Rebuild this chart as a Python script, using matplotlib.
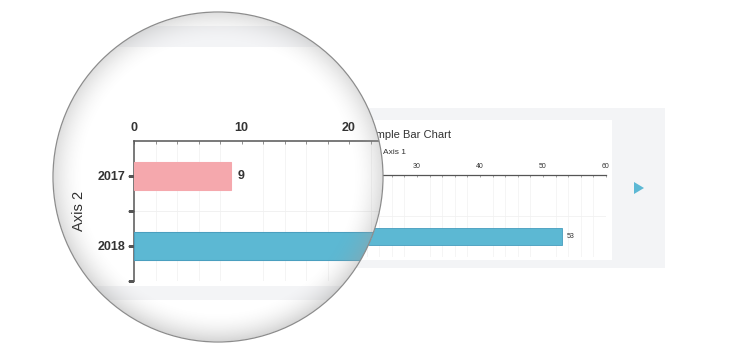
import matplotlib
matplotlib.use('Agg')
import matplotlib.pyplot as plt
import numpy as np
from matplotlib.patches import Rectangle, Circle, Polygon
from matplotlib.ticker import MultipleLocator, FixedLocator

plt.rcParams['font.family'] = ['Liberation Sans', 'DejaVu Sans']

# ---- data ----
title = 'Sample Bar Chart'
x_label = 'Axis 1'
y_label = 'Axis 2'
categories = ['2017', '2018']
values = [9, 53]
bar_colors = ['#f5a8ad', '#5cb8d3']
edge_colors = ['#f5a8ad', '#4a9fbf']
x_max = 60

W, H = 730, 350
fig = plt.figure(figsize=(7.3, 3.5), dpi=100)


def box(x0, y0, x1, y1):
    return [x0 / W, 1 - y1 / H, (x1 - x0) / W, (y1 - y0) / H]


# ---- page background ----
bg = fig.add_axes([0, 0, 1, 1], zorder=0)
bg.set_xlim(0, W); bg.set_ylim(H, 0); bg.axis('off')
bg.add_patch(Rectangle((150, 108), 665 - 150, 268 - 108, color='#f3f4f6', lw=0))
bg.add_patch(Rectangle((160, 120), 612 - 160, 260 - 120, color='white', lw=0))
bg.add_patch(Polygon([(634, 182), (644, 188), (634, 194)], closed=True,
                     color='#5cb8d4', lw=0))
bg.text(362, 134.5, title, fontsize=8, color='#333333', ha='left', va='center')


def draw_chart(ax, xlim, fs, weight, lw_spine, tick_len, pad_x, label_fs, val_off_pt):
    ypos = np.arange(len(categories))
    ax.set_facecolor('none')
    ax.barh(ypos, values, height=0.41, color=bar_colors, edgecolor=edge_colors,
            linewidth=lw_spine * 0.7, zorder=3)
    ax.set_ylim(len(categories) - 0.5, -0.5)
    ax.set_xlim(0, xlim)
    ax.xaxis.tick_top()
    ax.xaxis.set_major_locator(MultipleLocator(10))
    ax.xaxis.set_minor_locator(MultipleLocator(2))
    ax.yaxis.set_major_locator(FixedLocator(ypos))
    ax.yaxis.set_minor_locator(FixedLocator(ypos + 0.5))
    ax.set_yticklabels(categories)
    for s in ['right', 'bottom']:
        ax.spines[s].set_visible(False)
    for s in ['top', 'left']:
        ax.spines[s].set_color('#555555')
        ax.spines[s].set_linewidth(lw_spine)
    ax.tick_params(axis='x', which='both', direction='in', length=tick_len,
                   width=lw_spine * 0.6, color='#8a8a8a', pad=pad_x,
                   labelsize=fs, labelcolor='#333333')
    ax.tick_params(axis='y', which='both', direction='out', length=tick_len * 2.0,
                   width=lw_spine * 0.9, color='#555555', pad=tick_len,
                   labelsize=fs, labelcolor='#333333')
    for t in ax.get_xticklabels() + ax.get_yticklabels():
        t.set_fontweight(weight)
    ax.grid(axis='x', which='minor', color='#f3f3f3', lw=lw_spine * 0.6, zorder=0)
    ax.grid(axis='y', which='minor', color='#f0f0f0', lw=lw_spine * 0.6, zorder=0)
    ax.set_axisbelow(True)
    for y, v in zip(ypos, values):
        ax.annotate(str(v), (v, y), xytext=(val_off_pt, 0), textcoords='offset points',
                    ha='left', va='center', fontsize=fs, fontweight=weight,
                    color='#333333')
    ax.set_ylabel(y_label, fontsize=label_fs, color='#2a2a2a')


# ---- underlying chart ----
ax = fig.add_axes(box(228, 175, 606, 257), zorder=1)
draw_chart(ax, x_max, 5, 'normal', 0.9, 1.5, 3.5, 6, 3.5)
ax.set_xlabel(x_label, fontsize=6, color='#333333')
ax.xaxis.set_label_position('top')
ax.xaxis.set_label_coords((383 - 228) / 378, (175 - 153) / 82 + 1)
ax.xaxis.label.set_ha('left'); ax.xaxis.label.set_va('center')

# ---- magnifier ----
CX, CY, R = 218, 177, 165
mb = fig.add_axes([0, 0, 1, 1], zorder=2)
mb.set_xlim(0, W); mb.set_ylim(H, 0); mb.axis('off'); mb.set_facecolor('none')
clip = Circle((CX, CY), R, transform=mb.transData)
disk = Circle((CX, CY), R, color='white', lw=0)
mb.add_patch(disk)
for rect in [Rectangle((0, 26), W, 300 - 26, color='#f3f4f6', lw=0),
             Rectangle((0, 47), W, 286 - 47, color='white', lw=0)]:
    mb.add_patch(rect)
    rect.set_clip_path(clip)

mag_scale = 10.75
mx0, my0, my1 = 134, 141, 281
mag_xmax = 24
mag = fig.add_axes(box(mx0, my0, mx0 + mag_xmax * mag_scale, my1), zorder=3)
draw_chart(mag, mag_xmax, 9, 'bold', 1.1, 2, 5.3, 10.5, 5)
mag.yaxis.set_label_coords(-(mx0 - 79) / (mag_xmax * mag_scale), 0.5)
mag.yaxis.label.set_va('center')

# ---- glass shading ----
ov = fig.add_axes([0, 0, 1, 1], zorder=4)
ov.set_xlim(0, W); ov.set_ylim(H, 0); ov.axis('off'); ov.set_facecolor('none')
n = 500
yy, xx = np.mgrid[-1:1:n * 1j, -1:1:n * 1j]
rr = np.sqrt(xx ** 2 + yy ** 2)
alpha = np.clip((rr - 0.82) / 0.18, 0, 1) ** 1.8 * 0.40
alpha = alpha * (0.85 + 0.25 * np.clip(yy, 0, 1))
img = np.zeros((n, n, 4))
img[..., :3] = 0.62
img[..., 3] = np.where(rr <= 1, alpha, 0)
im = ov.imshow(img, extent=(CX - R, CX + R, CY + R, CY - R), interpolation='bilinear',
               zorder=1)
im.set_clip_path(Circle((CX, CY), R, transform=ov.transData))
ov.add_patch(Circle((CX, CY), R, fill=False, edgecolor='#8c8c8c', lw=0.9, zorder=2))
ov.set_xlim(0, W); ov.set_ylim(H, 0)

fig.canvas.draw()
for a in mag.findobj():
    if a is mag:
        continue
    try:
        a.set_clip_on(True)
        a.set_clip_path(clip)
    except Exception:
        pass

fig.savefig('out.png', dpi=100)
